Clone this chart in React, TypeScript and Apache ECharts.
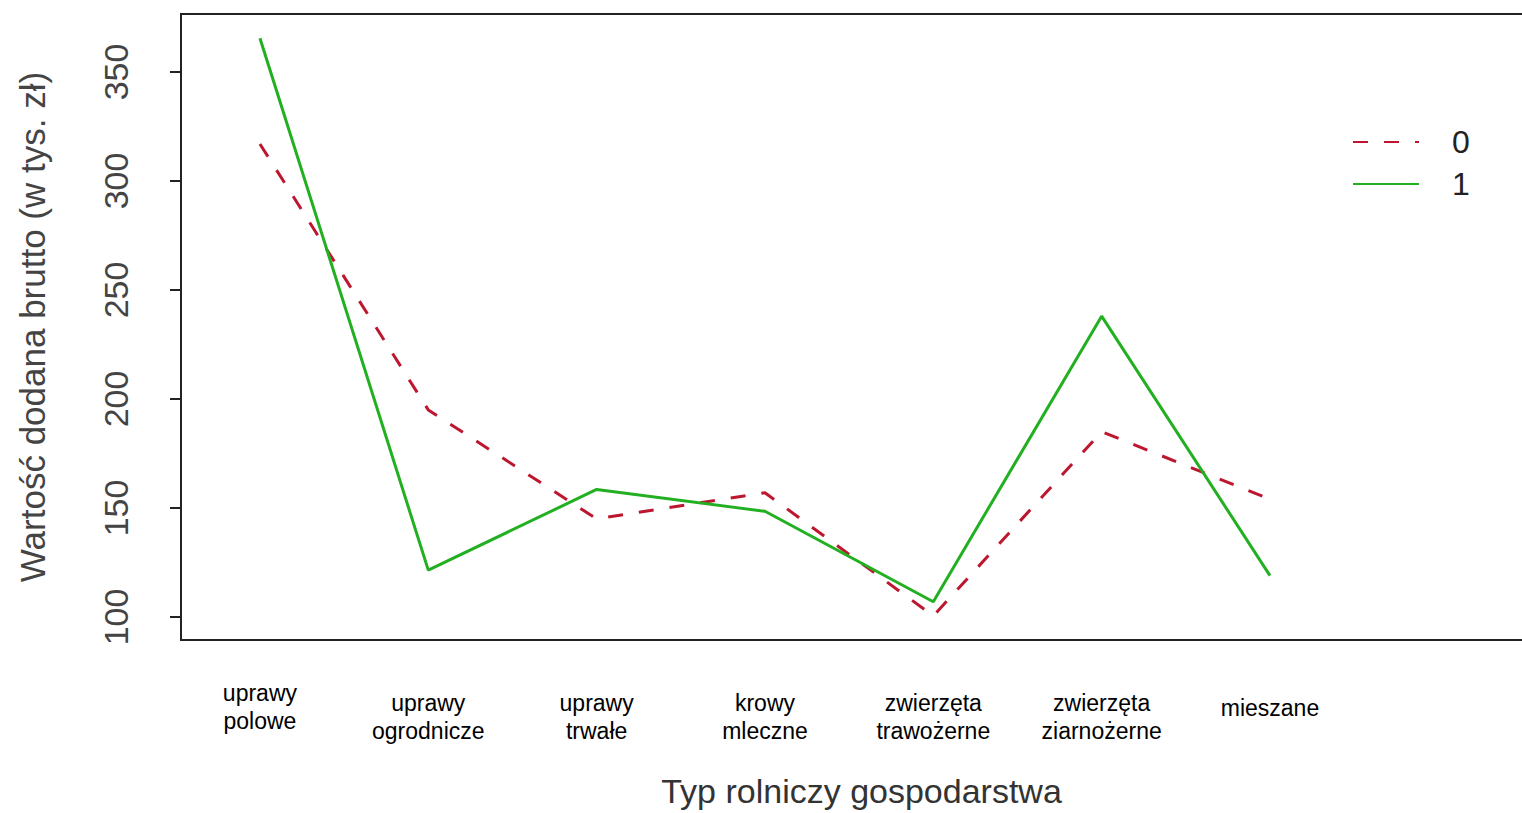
import React, { useEffect, useRef } from "react";
import * as echarts from "echarts";

const categories = [
  "uprawy\npolowe",
  "uprawy\nogrodnicze",
  "uprawy\ntrwałe",
  "krowy\nmleczne",
  "zwierzęta\ntrawożerne",
  "zwierzęta\nziarnożerne",
  "mieszane",
];
const series0 = [317, 195, 145, 157, 100.5, 185, 154];
const series1 = [365.5, 121.5, 158.5, 148.5, 107, 238, 119];
const yTicks = [100, 150, 200, 250, 300, 350];
const seriesNames = ["0", "1"];

// layout-only vertical centers for category labels (px)
const labelCenters = [707, 717, 717, 717, 717, 717, 708];

const FONT = "Liberation Sans, Arial, sans-serif";

export default function App() {
  const ref = useRef<HTMLDivElement>(null);
  useEffect(() => {
    const chart = echarts.init(ref.current!, null, { renderer: "svg" });
    const option: any = {
      animation: false,
      backgroundColor: "#ffffff",
      grid: {
        left: 181,
        top: 14,
        width: 1361,
        height: 626,
        containLabel: false,
        outerBoundsMode: "none",
        show: true,
        borderColor: "#222",
        borderWidth: 2,
        backgroundColor: "transparent",
      },
      xAxis: {
        type: "value",
        min: 0.531,
        max: 8.616,
        axisLine: { show: false },
        axisTick: { show: false },
        axisLabel: { show: false },
        splitLine: { show: false },
        name: "Typ rolniczy gospodarstwa",
        nameLocation: "middle",
        nameGap: 134,
        nameTextStyle: { fontFamily: FONT, fontSize: 34, color: "#333" },
      },
      yAxis: {
        type: "value",
        min: 89.45,
        max: 376.6,
        axisLine: { show: false },
        splitLine: { show: false },
        axisTick: {
          show: true,
          customValues: yTicks,
          length: 11,
          lineStyle: { color: "#222", width: 2 },
        },
        axisLabel: {
          customValues: yTicks,
          rotate: 90,
          margin: 48,
          fontFamily: FONT,
          fontSize: 34,
          color: "#444",
        },
        name: "Wartość dodana brutto (w tys. zł)",
        nameLocation: "middle",
        nameRotate: 90,
        nameGap: 131,
        nameTextStyle: { fontFamily: FONT, fontSize: 35, color: "#444" },
      },
      legend: {
        orient: "vertical",
        left: 1352,
        top: 126,
        padding: 0,
        itemWidth: 66,
        itemHeight: 14,
        itemGap: 10,
        itemStyle: { opacity: 0 },
        textStyle: {
          fontFamily: FONT,
          fontSize: 32,
          lineHeight: 28,
          color: "#222",
          padding: [0, 0, 0, 28],
        },
        data: seriesNames,
      },
      series: [
        {
          name: seriesNames[0],
          type: "line",
          symbol: "none",
          data: series0.map((v, i) => [i + 1, v]),
          lineStyle: { color: "#bd1730", width: 3, type: [15, 16] },
          itemStyle: { color: "#bd1730" },
        },
        {
          name: seriesNames[1],
          type: "line",
          symbol: "none",
          data: series1.map((v, i) => [i + 1, v]),
          lineStyle: { color: "#22b022", width: 3 },
          itemStyle: { color: "#22b022" },
        },
      ],
    };
    chart.setOption(option);
    const graphic = categories.map((c, i) => {
      const x = chart.convertToPixel({ xAxisIndex: 0 }, i + 1) as number;
      return {
        type: "text",
        x,
        y: labelCenters[i],
        style: {
          text: c,
          fontFamily: FONT,
          fontSize: 23,
          lineHeight: 28,
          fill: "#000",
          align: "center",
          verticalAlign: "middle",
        },
      };
    });
    chart.setOption({ graphic });
    return () => chart.dispose();
  }, []);
  return (
    <div
      ref={ref}
      style={{ position: "absolute", left: 0, top: 0, width: 1522, height: 813 }}
    />
  );
}
